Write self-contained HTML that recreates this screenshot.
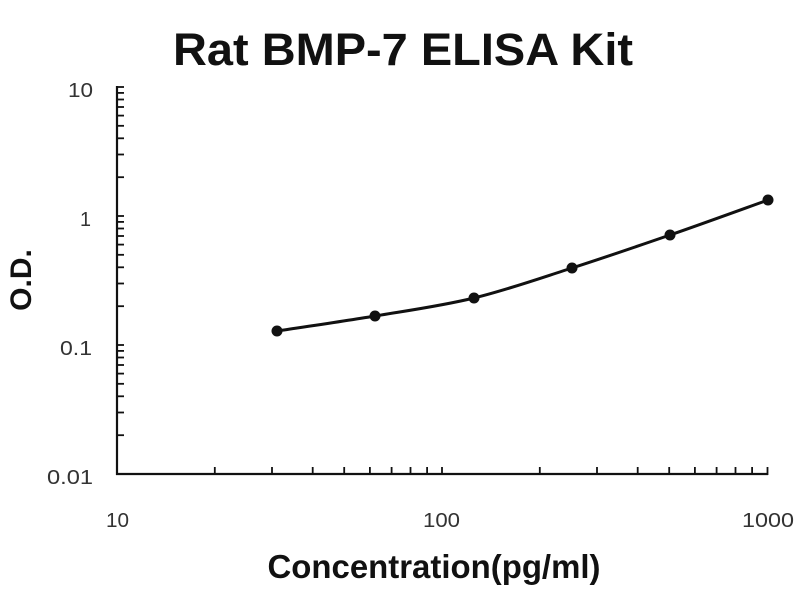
<!DOCTYPE html>
<html>
<head>
<meta charset="utf-8">
<style>
  html,body{margin:0;padding:0;background:#fff;}
  svg{display:block;}
</style>
</head>
<body>
<svg width="800" height="600" viewBox="0 0 800 600" xmlns="http://www.w3.org/2000/svg">
  <rect width="800" height="600" fill="#fff"/>
  <!-- Title -->
  <text x="403" y="65" text-anchor="middle" font-family="Liberation Sans, Arial, sans-serif" font-weight="bold" font-size="45" fill="#111" textLength="460" lengthAdjust="spacingAndGlyphs">Rat BMP-7  ELISA Kit</text>

  <!-- Axes -->
  <g stroke="#111" stroke-width="2.2" fill="none">
    <line x1="117" y1="86" x2="117" y2="475"/>
    <line x1="116" y1="474" x2="768" y2="474"/>
  </g>

  <!-- Y ticks (pointing right) -->
  <g stroke="#111" stroke-width="1.8">
    <line x1="117" x2="124" y1="435.2" y2="435.2"/>
    <line x1="117" x2="124" y1="412.5" y2="412.5"/>
    <line x1="117" x2="124" y1="396.3" y2="396.3"/>
    <line x1="117" x2="124" y1="383.8" y2="383.8"/>
    <line x1="117" x2="124" y1="373.6" y2="373.6"/>
    <line x1="117" x2="124" y1="365.0" y2="365.0"/>
    <line x1="117" x2="124" y1="357.5" y2="357.5"/>
    <line x1="117" x2="124" y1="350.9" y2="350.9"/>
    <line x1="117" x2="124" y1="345" y2="345"/>
    <line x1="117" x2="124" y1="306.2" y2="306.2"/>
    <line x1="117" x2="124" y1="283.5" y2="283.5"/>
    <line x1="117" x2="124" y1="267.3" y2="267.3"/>
    <line x1="117" x2="124" y1="254.8" y2="254.8"/>
    <line x1="117" x2="124" y1="244.6" y2="244.6"/>
    <line x1="117" x2="124" y1="236.0" y2="236.0"/>
    <line x1="117" x2="124" y1="228.5" y2="228.5"/>
    <line x1="117" x2="124" y1="221.9" y2="221.9"/>
    <line x1="117" x2="124" y1="216" y2="216"/>
    <line x1="117" x2="124" y1="177.2" y2="177.2"/>
    <line x1="117" x2="124" y1="154.5" y2="154.5"/>
    <line x1="117" x2="124" y1="138.3" y2="138.3"/>
    <line x1="117" x2="124" y1="125.8" y2="125.8"/>
    <line x1="117" x2="124" y1="115.6" y2="115.6"/>
    <line x1="117" x2="124" y1="107.0" y2="107.0"/>
    <line x1="117" x2="124" y1="99.5" y2="99.5"/>
    <line x1="117" x2="124" y1="92.9" y2="92.9"/>
    <line x1="117" x2="124" y1="87" y2="87"/>
  </g>

  <!-- X ticks (pointing up) -->
  <g stroke="#111" stroke-width="1.8">
    <line y1="474" y2="467" x1="214.8" x2="214.8"/>
    <line y1="474" y2="467" x1="272.0" x2="272.0"/>
    <line y1="474" y2="467" x1="312.7" x2="312.7"/>
    <line y1="474" y2="467" x1="344.2" x2="344.2"/>
    <line y1="474" y2="467" x1="369.9" x2="369.9"/>
    <line y1="474" y2="467" x1="391.6" x2="391.6"/>
    <line y1="474" y2="467" x1="410.5" x2="410.5"/>
    <line y1="474" y2="467" x1="427.1" x2="427.1"/>
    <line y1="474" y2="467" x1="442" x2="442"/>
    <line y1="474" y2="467" x1="539.8" x2="539.8"/>
    <line y1="474" y2="467" x1="597.0" x2="597.0"/>
    <line y1="474" y2="467" x1="637.7" x2="637.7"/>
    <line y1="474" y2="467" x1="669.2" x2="669.2"/>
    <line y1="474" y2="467" x1="694.9" x2="694.9"/>
    <line y1="474" y2="467" x1="716.6" x2="716.6"/>
    <line y1="474" y2="467" x1="735.5" x2="735.5"/>
    <line y1="474" y2="467" x1="752.1" x2="752.1"/>
    <line y1="475" y2="467" x1="767.5" x2="767.5"/>
  </g>

  <!-- Y tick labels -->
  <g font-family="Liberation Sans, Arial, sans-serif" font-size="20" fill="#333">
    <text x="68" y="97" textLength="25" lengthAdjust="spacingAndGlyphs">10</text>
    <text x="80" y="226" textLength="11" lengthAdjust="spacingAndGlyphs">1</text>
    <text x="60" y="355" textLength="32" lengthAdjust="spacingAndGlyphs">0.1</text>
    <text x="47" y="484" textLength="46" lengthAdjust="spacingAndGlyphs">0.01</text>
  </g>
  <!-- X tick labels -->
  <g font-family="Liberation Sans, Arial, sans-serif" font-size="20" fill="#333">
    <text x="106" y="527" textLength="23" lengthAdjust="spacingAndGlyphs">10</text>
    <text x="423" y="527" textLength="37" lengthAdjust="spacingAndGlyphs">100</text>
    <text x="742" y="527" textLength="52" lengthAdjust="spacingAndGlyphs">1000</text>
  </g>

  <!-- Axis titles -->
  <text x="434" y="578" text-anchor="middle" font-family="Liberation Sans, Arial, sans-serif" font-weight="bold" font-size="33" fill="#111" textLength="333" lengthAdjust="spacingAndGlyphs">Concentration(pg/ml)</text>
  <text transform="translate(31,280) rotate(-90)" text-anchor="middle" font-family="Liberation Sans, Arial, sans-serif" font-weight="bold" font-size="30" fill="#111">O.D.</text>

  <!-- Curve -->
  <path d="M277,331 C293.3,328.5 342.2,321.5 375,316 C407.8,310.5 441.2,306 474,298 C506.8,290 539.3,278.5 572,268 C604.7,257.5 637.3,246.3 670,235 C702.7,223.7 751.7,205.8 768,200" fill="none" stroke="#111" stroke-width="3"/>

  <!-- Markers -->
  <g fill="#111">
    <circle cx="277" cy="331" r="5.5"/>
    <circle cx="375" cy="316" r="5.5"/>
    <circle cx="474" cy="298" r="5.5"/>
    <circle cx="572" cy="268" r="5.5"/>
    <circle cx="670" cy="235" r="5.5"/>
    <circle cx="768" cy="200" r="5.5"/>
  </g>
</svg>
</body>
</html>
